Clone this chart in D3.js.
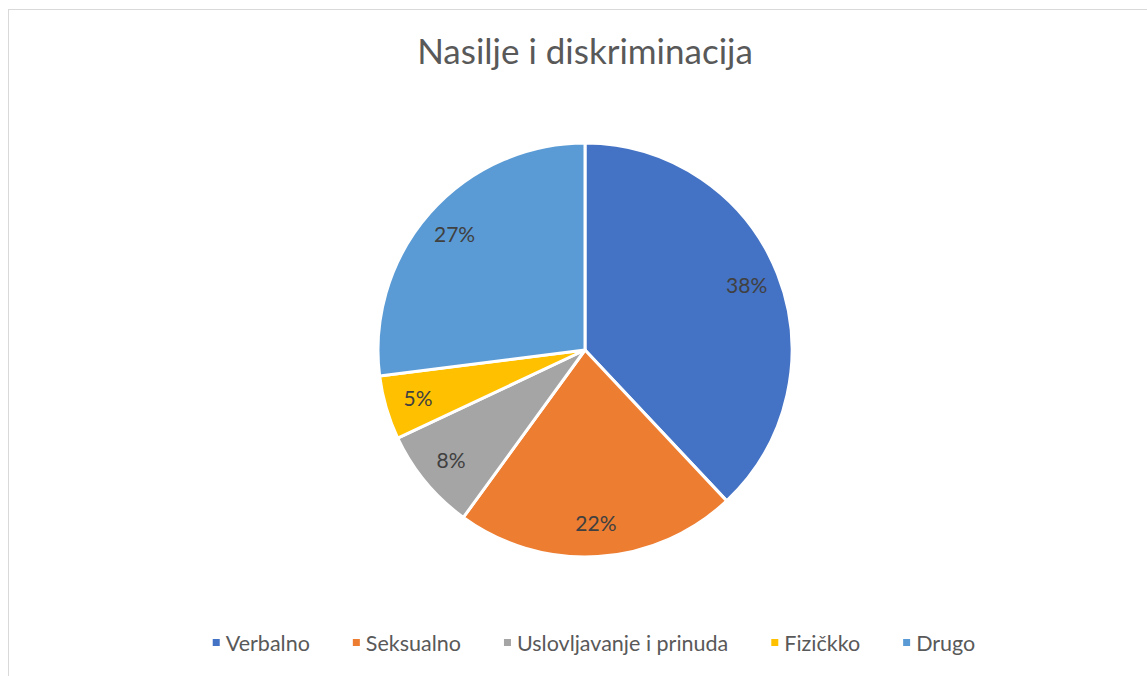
<!DOCTYPE html>
<html>
<head>
<meta charset="utf-8">
<script src="https://cdn.jsdelivr.net/npm/d3@7"></script>
<style>
  body { margin: 0; background: #fff; }
  text { font-family: Lato, "Open Sans", sans-serif; }
</style>
</head>
<body>
<div id="chart"></div>
<script>
// data
const categories = ["Verbalno", "Seksualno", "Uslovljavanje i prinuda", "Fizičkko", "Drugo"];
const values = [38, 22, 8, 5, 27];
const colors = ["#4472C4", "#ED7D31", "#A5A5A5", "#FFC000", "#5B9BD5"];
const title = "Nasilje i diskriminacija";

const W = 1147, H = 676;
const cx = 585, cy = 350, R = 207;

const svg = d3.select("#chart").append("svg")
    .attr("width", W)
    .attr("height", H);

// chart area border (right and bottom go off the page)
svg.append("rect")
    .attr("x", 8.5).attr("y", 9.5)
    .attr("width", W + 20).attr("height", H + 20)
    .attr("fill", "white")
    .attr("stroke", "#d9d9d9")
    .attr("stroke-width", 1);

svg.append("text")
    .attr("x", 585).attr("y", 64)
    .attr("text-anchor", "middle")
    .attr("font-size", 35)
    .attr("fill", "#595959")
    .text(title);

const data = categories.map((c, i) => ({ name: c, value: values[i], color: colors[i] }));

const pie = d3.pie().value(d => d.value).sort(null);
const arc = d3.arc().innerRadius(0).outerRadius(R);
const labelArc = d3.arc().innerRadius(R * 0.84).outerRadius(R * 0.84);

const total = d3.sum(values);
const g = svg.append("g").attr("transform", `translate(${cx},${cy})`);

const slices = g.selectAll("g.slice").data(pie(data)).enter().append("g");

slices.append("path")
    .attr("d", arc)
    .attr("fill", d => d.data.color)
    .attr("stroke", "white")
    .attr("stroke-width", 3)
    .attr("stroke-linejoin", "round");

slices.append("text")
    .attr("transform", d => `translate(${labelArc.centroid(d)})`)
    .attr("text-anchor", "middle")
    .attr("dy", "0.35em")
    .attr("font-size", 21)
    .attr("fill", "#404040")
    .text(d => Math.round(d.data.value / total * 100) + "%");

// legend
const legend = svg.append("g");
const items = legend.selectAll("g").data(data).enter().append("g");
items.append("rect")
    .attr("width", 7).attr("height", 7)
    .attr("y", -4)
    .attr("fill", d => d.color);
items.append("text")
    .attr("x", 13)
    .attr("dy", "0.35em")
    .attr("font-size", 21.5)
    .attr("fill", "#595959")
    .text(d => d.name);

let x = 0;
const gap = 43;
items.each(function() {
    const w = d3.select(this).select("text").node().getComputedTextLength();
    d3.select(this).attr("transform", `translate(${x},0)`);
    x += 13 + w + gap;
});
const legendW = x - gap;
legend.attr("transform", `translate(${594 - legendW / 2},643)`);
</script>
</body>
</html>
